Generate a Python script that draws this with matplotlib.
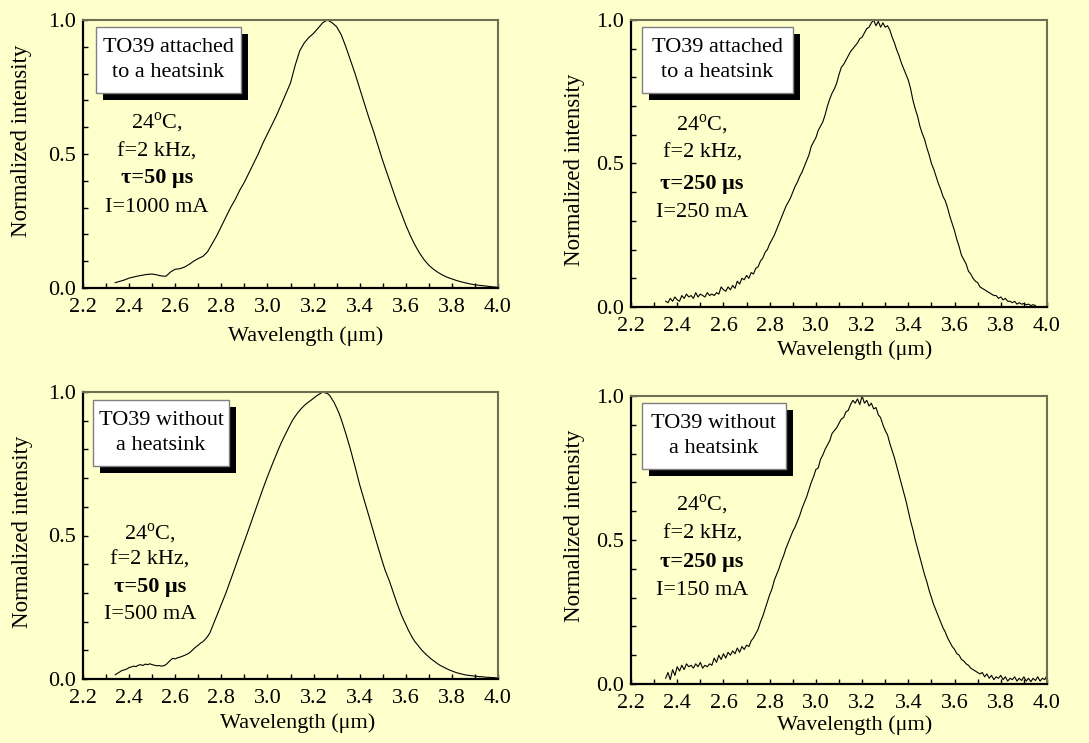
import numpy as np
import matplotlib
matplotlib.use("Agg")
import matplotlib.pyplot as plt
from matplotlib.patches import Rectangle
from matplotlib.transforms import offset_copy

plt.rcParams['font.family'] = ['Liberation Serif', 'DejaVu Serif']
plt.rcParams['mathtext.fontset'] = 'custom'
plt.rcParams['mathtext.rm'] = 'Liberation Serif'

BG = '#ffffcc'

# spectra: wavelength start, step (um) and normalized intensity
start_1, step_1 = 2.34, 0.02
int_1 = [0.020, 0.025, 0.030, 0.037, 0.041, 0.045, 0.048, 0.051, 0.052, 0.049,
         0.045, 0.044, 0.060, 0.070, 0.072, 0.078, 0.088, 0.100, 0.110, 0.118,
         0.135, 0.165, 0.195, 0.230, 0.265, 0.300, 0.330, 0.365, 0.395, 0.430,
         0.465, 0.500, 0.540, 0.575, 0.610, 0.645, 0.685, 0.725, 0.765, 0.830,
         0.885, 0.915, 0.935, 0.950, 0.970, 0.990, 1.000, 0.990, 0.975, 0.945,
         0.900, 0.850, 0.800, 0.745, 0.690, 0.635, 0.585, 0.530, 0.475, 0.425,
         0.375, 0.325, 0.280, 0.235, 0.195, 0.160, 0.130, 0.105, 0.085, 0.070,
         0.058, 0.048, 0.040, 0.034, 0.028, 0.023, 0.019, 0.015, 0.012, 0.010,
         0.008, 0.006, 0.004, 0.003]

start_2, step_2 = 2.35, 0.01
int_2 = [0.020, 0.015, 0.030, 0.020, 0.035, 0.025, 0.020, 0.040, 0.030, 0.045,
         0.035, 0.040, 0.030, 0.050, 0.035, 0.045, 0.040, 0.035, 0.050, 0.040,
         0.045, 0.040, 0.050, 0.045, 0.070, 0.060, 0.055, 0.070, 0.060, 0.075,
         0.065, 0.090, 0.080, 0.100, 0.095, 0.110, 0.100, 0.120, 0.115, 0.135,
         0.140, 0.160, 0.170, 0.190, 0.200, 0.220, 0.235, 0.250, 0.270, 0.290,
         0.310, 0.330, 0.350, 0.365, 0.380, 0.400, 0.420, 0.435, 0.455, 0.470,
         0.490, 0.510, 0.530, 0.560, 0.575, 0.590, 0.615, 0.630, 0.645, 0.670,
         0.700, 0.725, 0.745, 0.760, 0.780, 0.810, 0.835, 0.845, 0.860, 0.875,
         0.890, 0.900, 0.910, 0.920, 0.935, 0.940, 0.955, 0.970, 0.975, 0.990,
         1.000, 0.980, 0.995, 0.975, 0.990, 0.975, 0.980, 0.965, 0.940, 0.920,
         0.895, 0.875, 0.850, 0.830, 0.810, 0.790, 0.760, 0.720, 0.690, 0.665,
         0.630, 0.605, 0.585, 0.555, 0.530, 0.500, 0.480, 0.455, 0.430, 0.410,
         0.385, 0.370, 0.345, 0.315, 0.290, 0.265, 0.235, 0.210, 0.180, 0.165,
         0.150, 0.125, 0.115, 0.100, 0.090, 0.085, 0.070, 0.065, 0.060, 0.055,
         0.050, 0.045, 0.040, 0.040, 0.030, 0.035, 0.025, 0.030, 0.020, 0.020,
         0.015, 0.020, 0.010, 0.015, 0.010, 0.012, 0.008, 0.010, 0.005, 0.008,
         0.005]

start_3, step_3 = 2.34, 0.01
int_3 = [0.015, 0.020, 0.025, 0.030, 0.032, 0.035, 0.040, 0.042, 0.045, 0.043,
         0.048, 0.050, 0.047, 0.052, 0.050, 0.053, 0.050, 0.048, 0.046, 0.047,
         0.045, 0.046, 0.050, 0.058, 0.066, 0.072, 0.070, 0.074, 0.076, 0.079,
         0.082, 0.086, 0.090, 0.097, 0.105, 0.112, 0.118, 0.125, 0.130, 0.138,
         0.148, 0.160, 0.180, 0.200, 0.220, 0.240, 0.260, 0.280, 0.300, 0.322,
         0.345, 0.367, 0.390, 0.412, 0.435, 0.457, 0.480, 0.502, 0.525, 0.548,
         0.571, 0.594, 0.617, 0.640, 0.662, 0.684, 0.705, 0.726, 0.746, 0.766,
         0.785, 0.805, 0.823, 0.840, 0.856, 0.872, 0.888, 0.903, 0.915, 0.926,
         0.936, 0.945, 0.953, 0.960, 0.966, 0.972, 0.978, 0.985, 0.990, 0.995,
         1.000, 0.997, 0.995, 0.988, 0.975, 0.962, 0.945, 0.927, 0.905, 0.880,
         0.855, 0.828, 0.800, 0.770, 0.740, 0.708, 0.677, 0.650, 0.622, 0.595,
         0.568, 0.540, 0.512, 0.485, 0.458, 0.432, 0.405, 0.380, 0.360, 0.339,
         0.315, 0.290, 0.268, 0.246, 0.225, 0.207, 0.190, 0.172, 0.157, 0.142,
         0.130, 0.120, 0.110, 0.100, 0.092, 0.084, 0.077, 0.070, 0.064, 0.058,
         0.052, 0.047, 0.043, 0.039, 0.035, 0.031, 0.028, 0.025, 0.022, 0.020,
         0.018, 0.016, 0.014, 0.013, 0.012, 0.011, 0.010, 0.009, 0.008, 0.008,
         0.007, 0.006, 0.006, 0.005, 0.005, 0.004, 0.004]

start_4, step_4 = 2.35, 0.01
int_4 = [0.020, 0.040, 0.015, 0.050, 0.030, 0.060, 0.045, 0.065, 0.050, 0.070,
         0.060, 0.065, 0.055, 0.070, 0.060, 0.075, 0.055, 0.065, 0.060, 0.070,
         0.065, 0.090, 0.075, 0.100, 0.085, 0.105, 0.090, 0.110, 0.100, 0.115,
         0.105, 0.125, 0.110, 0.130, 0.120, 0.135, 0.130, 0.150, 0.160, 0.175,
         0.190, 0.215, 0.235, 0.260, 0.285, 0.310, 0.330, 0.360, 0.380, 0.400,
         0.425, 0.445, 0.470, 0.490, 0.510, 0.530, 0.545, 0.565, 0.585, 0.610,
         0.630, 0.650, 0.675, 0.700, 0.720, 0.745, 0.750, 0.780, 0.795, 0.815,
         0.830, 0.845, 0.870, 0.880, 0.890, 0.905, 0.920, 0.925, 0.945, 0.950,
         0.970, 0.985, 0.975, 0.990, 0.970, 1.000, 0.975, 0.985, 0.965, 0.975,
         0.955, 0.960, 0.935, 0.925, 0.900, 0.880, 0.865, 0.835, 0.810, 0.785,
         0.755, 0.725, 0.695, 0.665, 0.635, 0.600, 0.565, 0.535, 0.500, 0.470,
         0.440, 0.410, 0.380, 0.355, 0.325, 0.300, 0.275, 0.255, 0.235, 0.215,
         0.195, 0.180, 0.160, 0.145, 0.130, 0.120, 0.105, 0.100, 0.085, 0.080,
         0.070, 0.065, 0.055, 0.050, 0.045, 0.040, 0.035, 0.040, 0.025, 0.035,
         0.020, 0.030, 0.015, 0.025, 0.020, 0.030, 0.015, 0.025, 0.010, 0.020,
         0.015, 0.025, 0.010, 0.020, 0.012, 0.025, 0.010, 0.020, 0.008, 0.020,
         0.012, 0.025, 0.010, 0.020, 0.015, 0.030]

box_texts = ["TO39 attached\nto a heatsink", "TO39 attached\nto a heatsink",
             "TO39 without\na heatsink", "TO39 without\na heatsink"]
taus = ["\u03c4=50 \u03bcs", "\u03c4=250 \u03bcs", "\u03c4=50 \u03bcs", "\u03c4=250 \u03bcs"]
currents = ["I=1000 mA", "I=250 mA", "I=500 mA", "I=150 mA"]

# layout (pixels: left, top, right, bottom) and annotation positions
W, H = 1089, 743
axes_px = [(83, 20, 498, 288), (631, 20, 1047, 307),
           (83, 392, 498, 679), (631, 396, 1047, 684)]
boxes = [(0.031, 0.728, 0.381, 0.974), (0.026, 0.746, 0.389, 0.976),
         (0.024, 0.742, 0.352, 0.972), (0.026, 0.747, 0.373, 0.976)]
info_x = [0.178, 0.171, 0.161, 0.171]
info_y = [(0.616, 0.507, 0.410, 0.302), (0.634, 0.535, 0.429, 0.328),
          (0.505, 0.415, 0.321, 0.223), (0.622, 0.521, 0.424, 0.326)]
ylab_pos = [(-0.147, 0.549), (-0.137, 0.477), (-0.145, 0.512), (-0.137, 0.549)]
xlab_pos = [(0.537, -0.180), (0.538, -0.150), (0.518, -0.154), (0.538, -0.143)]

series = [(start_1, step_1, int_1), (start_2, step_2, int_2),
          (start_3, step_3, int_3), (start_4, step_4, int_4)]

fig = plt.figure(figsize=(W / 100, H / 100), dpi=100, facecolor=BG)
FS = 16

for i in range(4):
    l, t, r, b = axes_px[i]
    ax = fig.add_axes([l / W, 1 - b / H, (r - l) / W, (b - t) / H])
    ax.set_facecolor(BG)
    start, step, vals = series[i]
    wl = start + step * np.arange(len(vals))
    ax.plot(wl, vals, color='black', lw=0.8)
    ax.set_xlim(2.2, 4.0)
    ax.set_ylim(0, 1.0)
    ax.set_xticks(np.arange(2.2, 4.01, 0.2))
    ax.set_xticks(np.arange(2.2, 4.01, 0.1), minor=True)
    ax.set_yticks([0, 0.5, 1.0])
    ax.set_yticks(np.arange(0, 1.01, 0.1), minor=True)
    ax.set_xticklabels([f"{v:.1f}" for v in np.arange(2.2, 4.01, 0.2)])
    ax.set_yticklabels(["0.0", "0.5", "1.0"])
    ax.tick_params(which='both', direction='in', length=3.6, width=1,
                   labelsize=FS)
    ax.tick_params(axis='x', which='major', pad=7.5)
    ax.tick_params(axis='y', which='major', pad=5)
    for s in ['left', 'bottom']:
        ax.spines[s].set_linewidth(1.6)
        ax.spines[s].set_color('black')
    for s in ['top', 'right']:
        ax.spines[s].set_linewidth(1.5)
        ax.spines[s].set_color('#6e6e50')

    ax.set_ylabel("Normalized intensity", fontsize=16.5, va='center')
    ax.yaxis.set_label_coords(*ylab_pos[i])
    ax.set_xlabel("Wavelength (\u03bcm)", fontsize=FS, va='center')
    ax.xaxis.set_label_coords(*xlab_pos[i])

    # boxed label with drop shadow
    x0, y0, x1, y1 = boxes[i]
    shadow_tr = offset_copy(ax.transAxes, fig=fig, x=7, y=-7, units='dots')
    ax.add_patch(Rectangle((x0, y0), x1 - x0, y1 - y0, transform=shadow_tr,
                           facecolor='black', edgecolor='none', zorder=5,
                           clip_on=False))
    ax.add_patch(Rectangle((x0, y0), x1 - x0, y1 - y0, transform=ax.transAxes,
                           facecolor='white', edgecolor='#808080', lw=1,
                           zorder=6, clip_on=False))
    ax.text((x0 + x1) / 2, (y0 + y1) / 2, box_texts[i], transform=ax.transAxes,
            ha='center', va='center', fontsize=FS, linespacing=1.45, zorder=7)

    # measurement conditions
    ys = info_y[i]
    xc = info_x[i]
    ax.text(xc, ys[0], "24$^{\\mathrm{o}}$C,", transform=ax.transAxes,
            ha='center', va='center', fontsize=FS)
    ax.text(xc, ys[1], "f=2 kHz,", transform=ax.transAxes,
            ha='center', va='center', fontsize=FS)
    ax.text(xc, ys[2], taus[i], transform=ax.transAxes,
            ha='center', va='center', fontsize=FS, fontweight='bold')
    ax.text(xc, ys[3], currents[i], transform=ax.transAxes,
            ha='center', va='center', fontsize=FS)

fig.savefig("out.png", dpi=100, facecolor=BG)
